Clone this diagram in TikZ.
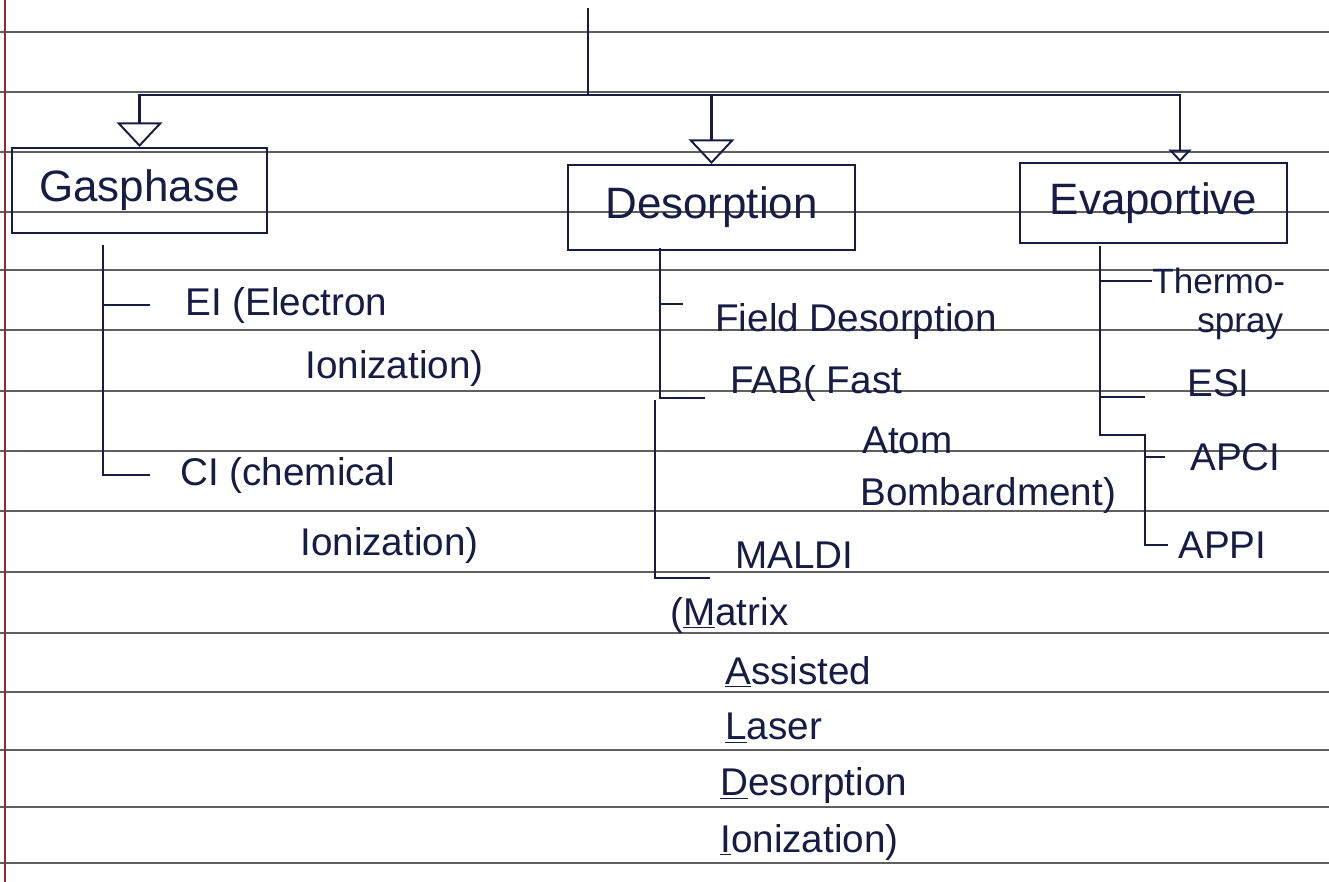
\documentclass[tikz,border=0pt]{standalone}
\usepackage{fontspec}
\setmainfont{Liberation Sans}
\usetikzlibrary{arrows.meta, positioning, calc}
\definecolor{inkblue}{RGB}{22,28,68}
\definecolor{ruleline}{RGB}{95,95,95}
\definecolor{marginred}{RGB}{150,40,50}

\begin{document}
\begin{tikzpicture}[x=0.02cm, y=-0.02cm,
  tree/.style={draw=inkblue, line width=1.2pt},
  drop/.style={tree, -{Triangle[open, length=14pt, width=26pt, line width=1.1pt]}},
  catbox/.style={draw=inkblue, line width=1.2pt, text=inkblue, font=\fontsize{25}{30}\selectfont},
  item/.style={anchor=west, inner sep=0pt, text=inkblue, font=\fontsize{22}{26}\selectfont}]

  \path[use as bounding box, fill=white] (0,0) rectangle (1329,882);

  %% ruled paper
  \foreach \y in {32,92,152,212,270,330,391,451,511,572,633,692,750,807,863}
    \draw[ruleline, line width=0.7pt] (0,\y) -- (1329,\y);
  \draw[marginred, line width=0.6pt] (5,0) -- (5,882);

  %% root and categories
  \coordinate (top) at (588,8);
  \coordinate (hub) at (588,95);
  \node[catbox, minimum width=5.1cm, minimum height=1.7cm] (gas) at (139.5,190.5) {Gasphase};
  \node[catbox, minimum width=5.74cm, minimum height=1.7cm] (des) at (711.5,207.5) {Desorption};
  \node[catbox, minimum width=5.34cm, minimum height=1.6cm] (evap) at (1153.5,203) {Evaportive};

  \draw[tree] (top) -- (hub);
  \draw[drop] (hub) -| (gas.north);
  \draw[drop] (hub) -| (des.north);
  \draw[tree, -{Triangle[open, length=7pt, width=13pt, line width=1.1pt]}] (hub) -| ([xshift=0.53cm]evap.north);

  %% Gasphase
  \coordinate (gasfoot) at (103,245);
  \node[item] (ei) at (185,305) {EI (Electron};
  \node[item] (eicont) at (305,368) {Ionization)};
  \node[item] (ci) at (180,475) {CI (chemical};
  \node[item] (cicont) at (300,545) {Ionization)};
  \draw[tree] (gasfoot) |- ([xshift=-0.6cm]ci.west);
  \draw[tree] (gasfoot |- ei.west) -- ([xshift=-0.7cm]ei.west);

  %% Desorption
  \coordinate (desfoot) at (660,248);
  \coordinate (malfoot) at (655,400);
  \node[item] (field) at (715,322) {Field Desorption};
  \node[item] (fab) at (730,383) {FAB( Fast};
  \node[item] (atom) at (862,440) {Atom};
  \node[item] (bomb) at (860,495) {Bombardment)};
  \node[item] (maldi) at (735,555) {MALDI};
  \node[item] (matrix) at (670,615) {(\underline{M}atrix};
  \node[item] (assist) at (725,672) {\underline{A}ssisted};
  \node[item] (laser) at (725,728) {\underline{L}aser};
  \node[item] (desorb) at (720,786) {\underline{D}esorption};
  \node[item] (ioniz) at (720,842) {\underline{I}onization)};
  \draw[tree] (desfoot) |- ([xshift=-0.5cm, yshift=-0.3cm]fab.west);
  \draw[tree] (desfoot |- field.north west) -- ([xshift=-0.64cm]field.north west);
  \draw[tree] (malfoot) |- ([xshift=-0.5cm, yshift=-0.46cm]maldi.west);

  %% Evaportive
  \coordinate (evfoot) at (1100,246);
  \coordinate (evstep) at (1145,435);
  \node[item, font=\fontsize{20}{24}\selectfont] (thermo) at (1152,281) {Thermo-};
  \node[item, font=\fontsize{20}{24}\selectfont] (spray) at (1197,327) {spray};
  \node[item] (esi) at (1187,383) {ESI};
  \node[item] (apci) at (1190,457) {APCI};
  \node[item] (appi) at (1178,545) {APPI};
  \draw[tree] (evfoot) |- (evstep) |- ([xshift=-0.2cm]appi.west);
  \draw[tree] (evfoot |- thermo.west) -- (thermo.west);
  \draw[tree] (evfoot |- esi.south) -- ([xshift=-0.84cm]esi.south west);
  \draw[tree] (evstep |- apci.west) -- ([xshift=-0.5cm]apci.west);
\end{tikzpicture}
\end{document}
